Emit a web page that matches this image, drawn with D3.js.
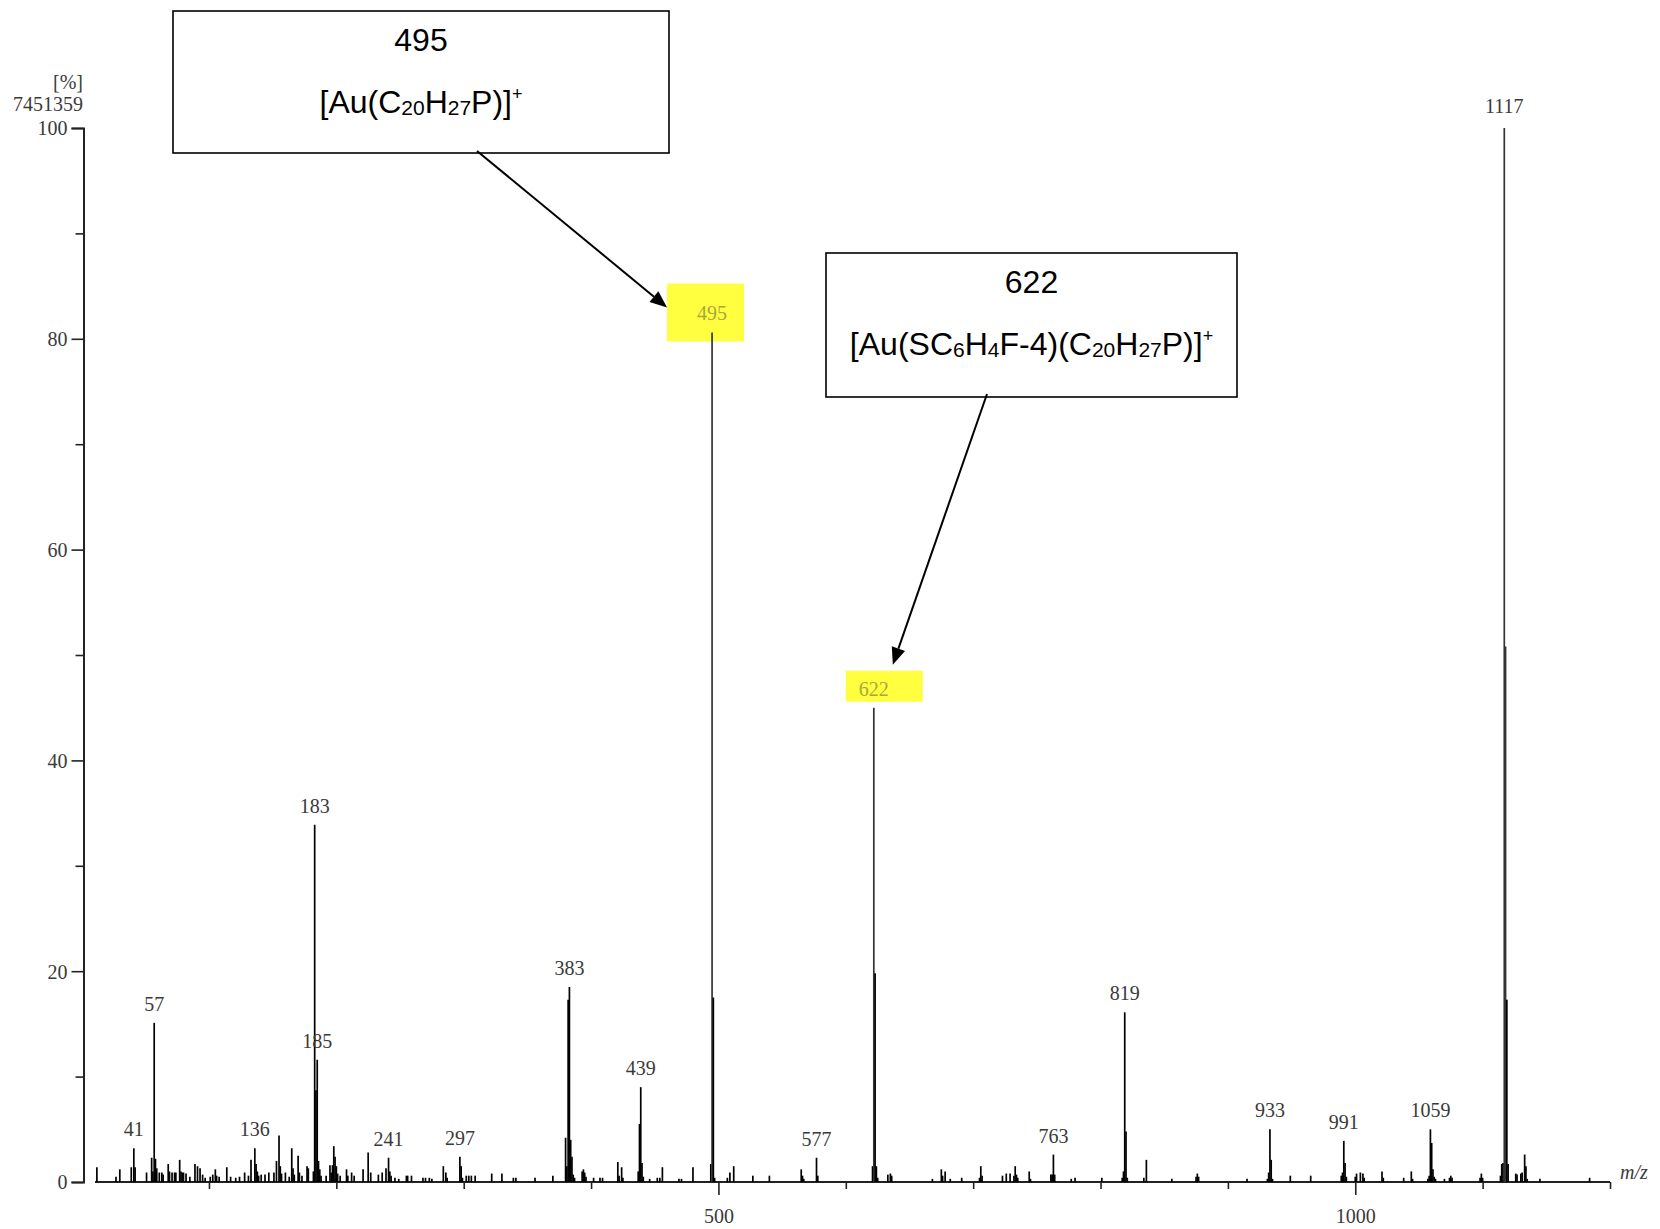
<!DOCTYPE html>
<html>
<head>
<meta charset="utf-8">
<script src="https://cdn.jsdelivr.net/npm/d3@7"></script>
<style>
body { margin: 0; background: #fff; }
svg { display: block; }
.tick-lbl { font-family: "Liberation Serif", serif; font-size: 20px; fill: #3a3a3a; }
.note { font-family: "Liberation Sans", Arial, sans-serif; fill: #000; }
</style>
</head>
<body>
<script>
// spectrum: nominal m/z and relative intensity (%)
var peakMz = [12,27,30,39,41,42,51,55,56,57,58,59,61,63,64,68,69,71,73,74,77,78,79,80,82,85,89,91,93,95,97,
  101,103,105,106,108,114,117,121,124,128,131,133,136,137,138,139,141,144,147,151,153,155,156,157,160,163,
  165,166,167,170,171,173,177,178,182,183,184,185,186,187,188,192,195,196,197,198,199,200,201,203,208,209,
  212,214,221,225,227,233,236,239,241,242,243,246,249,255,256,
  259,268,270,273,275,284,286,287,297,298,299,302,304,306,309,322,330,339,341,356,370,380,381,382,383,384,
  385,386,387,393,394,395,396,402,407,409,421,422,424,425,437,438,439,440,441,446,452,454,456,469,471,480,
  494,495,496,497,507,509,512,527,540,565,566,567,577,578,
  621,622,623,624,625,633,635,636,668,675,676,678,682,691,705,706,707,723,726,729,732,733,734,735,744,745,
  761,762,763,764,777,780,801,817,818,819,820,821,834,836,856,875,876,877,
  915,931,932,933,934,935,949,965,989,990,991,992,993,1000,1001,1004,1006,1007,1021,1022,1038,1044,1045,
  1057,1058,1059,1060,1061,1062,1063,1070,1074,1075,1076,1098,1099,1100,1114,1115,1116,1117,1118,1119,1120,
  1126,1127,1130,1131,1133,1134,1135,1145,1184];
var peakPct = [1.4,0.5,1.2,1.4,3.2,1.4,0.9,2.3,1.0,15.1,2.2,1.3,0.9,0.9,0.7,1.7,1.0,0.9,0.9,0.9,2.1,1.0,0.9,0.9,0.8,0.5,1.7,1.5,1.3,0.7,0.4,
  0.5,0.7,1.2,0.6,0.5,1.4,0.5,0.4,0.5,0.9,0.6,2.1,3.2,1.7,1.0,0.6,0.7,0.7,0.9,0.9,2.0,4.4,1.5,0.8,0.9,0.5,
  3.2,1.3,0.7,2.5,0.9,0.6,1.5,1.3,1.0,33.9,8.7,11.6,2.0,1.2,0.6,0.6,1.6,0.9,1.6,3.4,2.4,1.5,0.8,0.6,1.2,0.6,
  0.9,0.6,1.2,2.8,0.9,0.7,0.9,1.3,2.3,1.0,0.6,0.4,0.3,0.6,0.6,
  0.6,0.4,0.4,0.4,0.3,1.5,0.9,0.4,2.4,1.5,0.4,0.6,0.6,0.6,0.6,0.8,0.8,0.4,0.4,0.4,0.6,4.2,1.5,17.3,18.5,4.0,
  2.4,0.7,0.4,1.0,1.2,0.9,0.5,0.4,0.4,0.4,1.9,0.6,1.4,0.4,1.0,5.5,9.0,1.8,0.5,0.3,0.4,0.4,1.4,0.3,0.3,1.4,
  1.7,80.6,17.5,0.4,0.4,0.9,1.5,0.6,0.6,1.2,0.6,0.3,2.3,0.6,
  1.5,45.0,19.8,1.5,0.4,0.7,0.8,0.6,0.3,1.2,0.6,1.0,0.3,0.4,0.4,1.5,0.6,0.6,0.8,0.8,0.6,1.5,0.7,0.4,1.0,0.3,
  0.7,0.7,2.6,0.7,0.3,0.4,0.4,0.4,1.0,16.1,4.8,0.4,0.4,2.1,0.3,0.5,0.8,0.5,
  0.3,0.3,0.9,5.0,2.1,0.3,0.6,0.6,0.6,0.9,3.9,1.8,0.5,0.5,0.8,0.9,0.8,0.4,1.0,0.4,0.4,1.0,0.3,
  0.3,0.6,5.0,3.7,1.2,0.5,0.3,0.3,0.4,0.6,0.4,0.4,0.8,0.4,0.6,1.7,1.8,100,50.8,17.3,1.7,
  0.8,0.7,0.8,0.9,2.6,1.5,0.3,0.3,0.4];

// peaks that carry an m/z label
var labelMz = [41,57,136,183,185,241,297,383,439,495,577,622,763,819,933,991,1059,1117];
var highlightMz = [495,622];

var yTicks = [0,10,20,30,40,50,60,70,80,90,100];
var xTicks = [100,200,300,400,500,600,700,800,900,1000,1100,1200];
var xLabelTicks = [500,1000];

var basePeak = "7451359";

// annotation boxes: peak, title, formula pieces (0 normal, -1 subscript, 1 superscript)
var notes = [
  {mz: 495, title: "495", box: [173,11,669,153], from: [477,151], tip: [-45,-25],
   formula: [["[Au(C",0],["20",-1],["H",0],["27",-1],["P)]",0],["+",1]]},
  {mz: 622, title: "622", box: [826,253,1237,397], from: [987,394], tip: [19,-43],
   formula: [["[Au(SC",0],["6",-1],["H",0],["4",-1],["F-4)(C",0],["20",-1],["H",0],["27",-1],["P)]",0],["+",1]]}
];

var width = 1660, height = 1229;

var svg = d3.select("body").append("svg")
    .attr("width", width)
    .attr("height", height);

var x = d3.scaleLinear().domain([0,1200]).range([81.6,1610]);
var y = d3.scaleLinear().domain([0,100]).range([1182,128]);

var peaks = peakMz.map(function(m,i){ return {mz: m, pct: peakPct[i]}; });
function pctOf(m){
    var p = peaks.find(function(d){ return d.mz == m; });
    return p ? p.pct : 0;
}

// yellow highlight behind labels 495 / 622
highlightMz.forEach(function(m){
    var px = x(m), top = y(pctOf(m));
    var big = (m == 495);
    svg.append("rect")
        .attr("x", big ? px - 45 : px - 28)
        .attr("y", big ? top - 49 : top - 37)
        .attr("width", 77)
        .attr("height", big ? 58 : 31)
        .attr("fill", "#ffff3f");
});

// y axis
var yAxis = d3.axisLeft(y)
    .tickValues(yTicks)
    .tickSizeOuter(0)
    .tickSize(12)
    .tickFormat(function(d){ return d % 20 == 0 ? d : ""; });

var gy = svg.append("g")
    .attr("transform", "translate(83.5,0)")
    .call(yAxis);
gy.select(".domain").attr("stroke", "#222").attr("stroke-width", 2);
gy.selectAll(".tick line").attr("stroke", "#222").attr("stroke-width", 1.6)
    .attr("x2", function(d){ return d % 20 == 0 ? -12 : -8; });
gy.selectAll(".tick text")
    .attr("class", "tick-lbl")
    .attr("x", -16)
    .attr("dy", "0.34em")
    .attr("font-family", null).attr("font-size", null);

svg.append("text").attr("class", "tick-lbl")
    .attr("x", 83).attr("y", 89).attr("text-anchor", "end")
    .text("[%]");
svg.append("text").attr("class", "tick-lbl")
    .attr("x", 83).attr("y", 111).attr("text-anchor", "end")
    .text(basePeak);

// x axis
var xAxis = d3.axisBottom(x)
    .tickValues(xTicks)
    .tickSizeOuter(0)
    .tickFormat(function(d){ return xLabelTicks.includes(d) ? d : ""; });

var gx = svg.append("g")
    .attr("transform", "translate(0,1182)")
    .call(xAxis);
gx.select(".domain").remove();
gx.append("line")
    .attr("x1", x(10.5)).attr("x2", x(1200))
    .attr("stroke", "#222").attr("stroke-width", 2);
gx.selectAll(".tick line").attr("stroke", "#222").attr("stroke-width", 1.6)
    .attr("y2", function(d){ return xLabelTicks.includes(d) ? 13 : 7; });
gx.selectAll(".tick text")
    .attr("class", "tick-lbl")
    .attr("y", 27)
    .attr("dy", "0.71em")
    .attr("font-family", null).attr("font-size", null);

svg.append("text")
    .attr("x", 1620).attr("y", 1179)
    .attr("font-family", "Liberation Serif, serif")
    .attr("font-style", "italic")
    .attr("font-size", 20)
    .attr("fill", "#3a3a3a")
    .text("m/z");

// the sticks
svg.append("g")
    .selectAll("line")
    .data(peaks)
    .enter()
    .append("line")
    .attr("x1", function(d){ return x(d.mz); })
    .attr("x2", function(d){ return x(d.mz); })
    .attr("y1", y(0))
    .attr("y2", function(d){ return y(d.pct); })
    .attr("stroke", function(d){ return d.pct > 40 ? "#333" : "#000"; })
    .attr("stroke-width", 1.7);

// peak labels
svg.append("g")
    .selectAll("text")
    .data(labelMz)
    .enter()
    .append("text")
    .attr("class", "tick-lbl")
    .attr("text-anchor", "middle")
    .attr("x", function(m){ return x(m); })
    .attr("y", function(m){ return y(pctOf(m)) - (m == 1117 ? 15 : 12); })
    .style("fill", function(m){ return highlightMz.includes(m) ? "#a8a83c" : null; })
    .text(function(m){ return m; });

// callout boxes with arrows
notes.forEach(function(n){
    var b = n.box, cx = (b[0] + b[2]) / 2;
    svg.append("rect")
        .attr("x", b[0]).attr("y", b[1])
        .attr("width", b[2] - b[0]).attr("height", b[3] - b[1])
        .attr("fill", "#fff").attr("stroke", "#000").attr("stroke-width", 1.6);

    svg.append("text").attr("class", "note")
        .attr("x", cx).attr("y", b[1] + 40)
        .attr("text-anchor", "middle")
        .attr("font-size", 32)
        .text(n.title);

    var t = svg.append("text").attr("class", "note")
        .attr("x", cx).attr("y", b[1] + 102)
        .attr("text-anchor", "middle")
        .attr("font-size", 32);
    var off = 0;
    n.formula.forEach(function(p){
        var shift = p[1] == -1 ? 2 : (p[1] == 1 ? -13 : 0);
        t.append("tspan")
            .attr("dy", shift - off)
            .attr("font-size", p[1] == -1 ? 21 : (p[1] == 1 ? 18 : 32))
            .text(p[0]);
        off = shift;
    });

    // arrow to the labelled peak
    var tipX = x(n.mz) + n.tip[0];
    var tipY = y(pctOf(n.mz)) + n.tip[1];
    var fx = n.from[0], fy = n.from[1];
    var ang = Math.atan2(tipY - fy, tipX - fx);
    var len = 17, hw = 7;
    var bx = tipX - len * Math.cos(ang), by = tipY - len * Math.sin(ang);
    svg.append("line")
        .attr("x1", fx).attr("y1", fy).attr("x2", bx).attr("y2", by)
        .attr("stroke", "#000").attr("stroke-width", 2);
    svg.append("path")
        .attr("d", "M" + tipX + "," + tipY +
            "L" + (bx + hw * Math.sin(ang)) + "," + (by - hw * Math.cos(ang)) +
            "L" + (bx - hw * Math.sin(ang)) + "," + (by + hw * Math.cos(ang)) + "Z")
        .attr("fill", "#000");
});
</script>
</body>
</html>
